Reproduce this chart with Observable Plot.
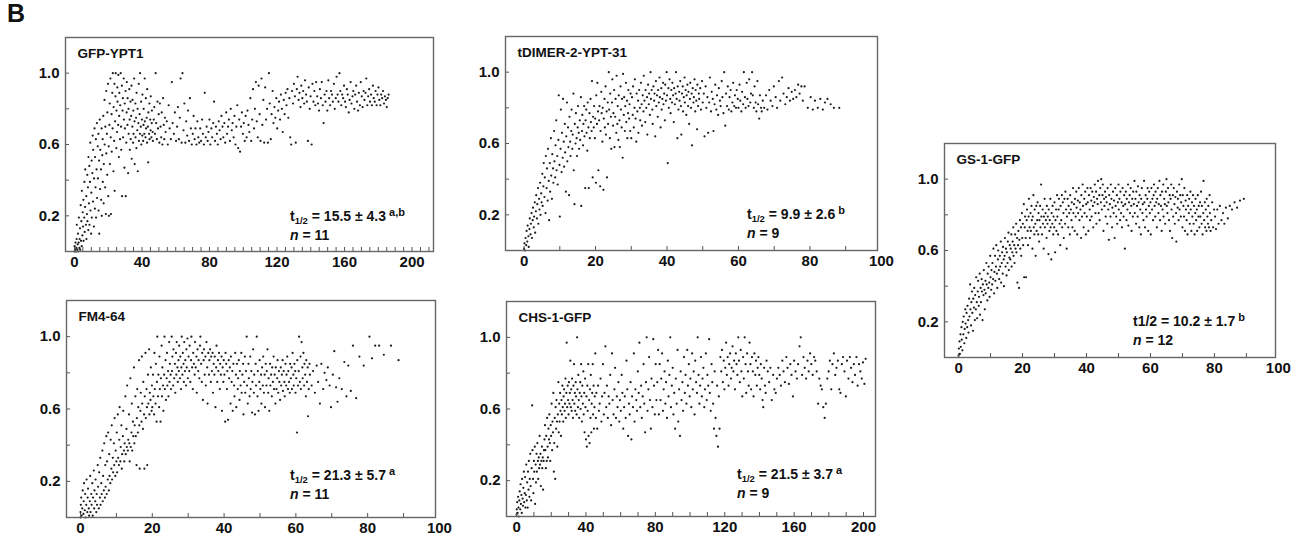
<!DOCTYPE html>
<html>
<head>
<meta charset="utf-8">
<script src="https://cdn.jsdelivr.net/npm/d3@7"></script>
<script src="https://cdn.jsdelivr.net/npm/@observablehq/plot@0.6"></script>
<style>
  html, body { margin: 0; padding: 0; background: #fff; }
  #wrap { position: relative; width: 1308px; height: 541px; font-family: "Liberation Sans", Arial, sans-serif; }
  #letter { position: absolute; left: 7px; top: 1px; font-size: 25px; font-weight: bold; line-height: 1; color: #111; }
  .pan { position: absolute; }
</style>
</head>
<body>
<div id="wrap"><div id="letter">B</div></div>
<script>
// ---------- text ----------
const titles = ["GFP-YPT1", "tDIMER-2-YPT-31", "GS-1-GFP", "FM4-64", "CHS-1-GFP"];
const halfTimes = ["15.5", "9.9", "10.2", "21.3", "21.5"];
const halfErrors = ["4.3", "2.6", "1.7", "5.7", "3.7"];
const letters = ["a,b", "b", "b", "a", "a"];
const cellCounts = [11, 9, 12, 11, 9];
// ---------- ticks ----------
const yTickLabels = [0.2, 0.6, 1.0];
const yMinorTicks = [0.2, 0.4, 0.6, 0.8, 1.0];
const xTicks200 = [0, 40, 80, 120, 160, 200];
const xTicks100 = [0, 20, 40, 60, 80, 100];

// ---------- data: [time (s), normalized fluorescence] ----------
const gfpYpt1 = [
[0,.0],[.1,.03],[.4,.01],[.6,.05],[.9,.0],[1.1,.02],[1.3,.07],[1.4,.15],[1.7,.01],[1.9,.04],[2.1,.1],[2.2,.0],[2.5,.05],[2.6,.19],[2.9,.02],[3.1,.07],[3.3,.13],[3.4,.01],[3.7,.26],[3.9,.06],[4.1,.17],[4.3,.03],[4.4,.34],[4.7,.09],[4.9,.22],[5.1,.14],[5.3,.29],[5.4,.06],[5.8,.19],[5.9,.39],
[6.1,.11],[6.3,.25],[6.4,.46],[6.8,.15],[7,.31],[7.1,.07],[7.4,.21],[7.6,.43],[7.7,.17],[8,.36],[8.2,.12],[8.3,.53],[8.6,.27],[8.8,.48],[8.9,.15],[9.2,.39],[9.4,.61],[9.5,.23],[9.9,.1],[10,.33],[10.2,.51],[10.3,.19],[10.6,.44],[10.8,.65],[11,.28],[11.1,.57],[11.5,.14],[11.6,.41],
[11.9,.69],[12.1,.24],[12.2,.53],[12.5,.36],[12.7,.63],[12.8,.19],[13.1,.46],[13.3,.72],[13.4,.3],[13.8,.59],[13.9,.41],[14.2,.66],[14.3,.23],[14.6,.51],[14.7,.1],[15,.74],[15.2,.35],[15.3,.57],[15.7,.46],[15.8,.29],[16.1,.69],[16.2,.2],[16.5,.54],[16.7,.63],[16.8,.39],[17.1,.76],[17.3,.27],[17.4,.49],[17.8,.85],[17.9,.6],[18.2,.36],[18.3,.7],[18.6,.21],[18.8,.9],[18.9,.55],[19.2,.66],[19.4,.43],[19.5,.78],[19.9,.94],[20,.31],[20.3,.59],[20.4,.2],[20.7,.71],[20.9,.83],[21,.49],[21.3,.97],[21.5,.64],
[21.6,.21],[22,.77],[22.1,.56],[22.4,.89],[22.6,.69],[22.7,1.0],[23.1,.45],[23.2,.81],[23.5,.62],[23.7,.94],[23.8,.34],[24.1,.73],[24.3,.87],[24.4,1.0],[24.8,.58],[24.9,.79],[25.2,.67],[25.4,.92],[25.5,.84],[25.9,.71],[26,.99],[26.3,.53],[26.5,.76],[26.6,.89],[27,.63],[27.1,.82],[27.4,1.0],[27.6,.7],[27.7,.57],[28.1,.93],[28.2,.31],[28.5,.79],[28.7,.86],[28.8,.64],[29.2,.97],[29.3,.74],[29.6,.47],[29.8,.83],[29.9,.69],[30.3,.9],[30.4,.31],[30.7,.61],[30.9,.78],
[31,.95],[31.4,.71],[31.5,.86],[31.8,.44],[32,.8],[32.1,.66],[32.5,.91],[32.7,.74],[32.8,.57],[33.2,.84],[33.3,.63],[33.6,.76],[33.8,.93],[33.9,.52],[34.3,.7],[34.4,.85],[34.7,.61],[34.9,.79],[35,.66],[35.4,.97],[35.6,.73],[35.7,.49],[36.1,.83],[36.2,.64],[36.5,.75],[36.7,.58],[36.8,.89],[37.2,.68],[37.4,.8],[37.5,.45],[37.9,.72],[38.1,.94],[38.2,.62],[38.6,.77],[38.8,.66],[38.9,1.0],[39.3,.7],[39.5,.84],[39.6,.6],[40,.74],[40.2,.65],[40.3,.88],[40.7,.62],[40.9,.71],[41,.8],[41.4,.66],[41.6,.97],[41.7,.73],[42.1,.64],[42.3,.86],[42.4,.69],[42.8,.75],[43,.61],[43.1,.91],[43.5,.7],[43.7,.5],[43.8,.78],[44.2,.66],[44.4,.83],[44.5,.63],[44.9,.74],[45.1,.68],[45.2,.87],[45.6,.64],[45.8,.72],[45.9,.79],[46.3,.67],[46.5,.62],
[47,.74],[47.3,.81],[47.7,.66],[48.1,1.0],[48.4,.72],[48.8,.63],[49.2,.84],[49.5,.69],[49.9,.77],[50.3,.61],[50.6,.83],[51,.7],[51.4,.64],[51.7,.78],[52.1,.6],[52.5,.86],[52.9,.71],[53.2,.63],[53.6,.75],[54,.67],[54.7,.73],[55.3,.6],[55.8,.82],[56.4,.69],[57.1,.63],[57.7,.95],[58.2,.72],[58.9,.66],[59.5,.78],[60.2,.62],
[60.8,.7],[61.3,.81],[61.9,.63],[62.4,.75],[62.9,.97],[63.5,.61],[64,1.0],[64.6,.68],[65.1,.83],[65.7,.61],[66.2,.73],[66.8,.65],[67.3,.79],[67.9,.62],[68.4,.86],[69,.69],[69.5,.6],[70.1,.66],[70.6,.76],[71.2,.63],[71.7,.69],[72.3,.6],[72.8,.73],[73.4,.64],[73.9,.61],[74.5,.69],[75,.62],[75.6,.74],[76.1,.66],[76.7,.6],[77.2,.89],[77.8,.64],[78.3,.7],[78.9,.62],[79.4,.67],[80,.74],[80.5,.6],[81.1,.69],[81.6,.64],[82.2,.72],[82.7,.84],[83.3,.62],[83.8,.7],[84.4,.66],[84.9,.6],[85.5,.73],[86,.68],[86.6,.63],[87.1,.76],[87.7,.7],[88.2,.64],[88.8,.72],[89.3,.61],[89.9,.78],[90.4,.66],[91,.7],[91.5,.74],[92.1,.62],[92.6,.8],[93.2,.68],[93.7,.72],[94.3,.64],[94.8,.76],[95.4,.6],[95.9,.7],[96.5,.82],[97,.58],[97.6,.74],[98.1,.56],[98.7,.7],[99.2,.78],[99.8,.66],
[100.3,.72],[100.9,.62],[101.4,.76],[102,.64],[102.5,.79],[103.1,.71],[103.6,.67],[104.2,.86],[104.7,.62],[105.3,.74],[105.8,.91],[106.4,.69],[106.9,.8],[107.5,.95],[108,.73],[108.6,.64],[109.1,.93],[109.7,.77],[110.2,.62],[110.8,.97],[111.3,.71],[111.9,.85],[112.4,.61],[113,.92],[113.5,.74],[114.1,.8],[114.6,.61],[115.2,1.0],[115.7,.83],[116.3,.63],[116.8,.77],[117.4,.9],[117.9,.72],[118.5,.81],[119,.75],[119.6,.86],[120.1,.69],[120.7,.79],[121.2,.84],[121.8,.74],[122.3,.88],[122.9,.8],[123.4,.67],[124,.85],[124.5,.77],[125.1,.89],[125.6,.82],[126.2,.91],[126.7,.75],[127.3,.86],[127.8,.64],
[128.4,.6],[128.9,.9],[129.5,.83],[130,.94],[130.6,.87],[131.1,.61],[131.7,.91],[132.2,.98],[132.8,.85],[133.3,.89],[133.9,.81],[134.4,.93],[135,.86],[135.5,.9],[136.1,.83],[136.6,.96],[137.2,.88],[137.7,.84],[138.3,.62],[138.8,.92],[139.4,.8],[139.9,.87],[140.5,.6],[141,.94],[141.6,.84],[142.1,.9],[142.7,.82],[143.2,.95],[143.8,.87],[144.3,.83],[144.9,.79],[145.4,.91],[146,.86],[146.5,.95],[147.1,.82],[147.6,.72],[148.2,.88],[148.7,.84],[149.3,.9],[149.8,.79],[150.4,.96],[150.9,.86],[151.5,.82],[152,.9],[152.6,.88],[153.1,.84],[153.7,.94],[154.2,.8],[154.8,.86],[155.3,.98],[155.9,.88],[156.4,.84],[157,1.0],[157.5,.9],[158.1,.82],[158.6,.88],[159.2,.86],[159.7,.93],[160.3,.84],[160.8,.81],[161.4,.91],[161.9,.88],[162.5,.78],[163,.85],[163.6,.95],[164.1,.83],[164.7,.87],[165.2,.9],[165.8,.8],[166.3,.88],[166.9,.93],[167.4,.84],[168,.79],[168.5,.89],[169.1,.82],[169.6,.95],[170.2,.87],[170.7,.81],[171.3,.9],[171.8,.85],[172.4,.89],[172.9,.97],[173.5,.82],[174,.87],[174.6,.91],[175.1,.84],[175.7,.88],[176.2,.82],[176.8,.93],[177.3,.86],[177.9,.84],[178.4,.9],[179,.82],[179.5,.88],[180.1,.92],[180.6,.85],[181.2,.82],[181.7,.88],[182.3,.86],[182.8,.9],[183.4,.83],[183.9,.87],[184.5,.85],[185,.81],[185.6,.86],[186.1,.88]
];

const tdimer = [
[0,.01],[.1,.04],[.3,.0],[.4,.07],[.6,.03],[.7,.11],[.9,.05],[1,.14],[1.2,.08],[1.3,.02],[1.5,.12],[1.6,.18],[1.8,.09],[1.9,.15],[2.1,.21],[2.2,.07],[2.4,.17],[2.5,.24],[2.7,.13],[2.8,.19],[3,.27],[3.1,.1],[3.3,.22],[3.4,.31],[3.6,.18],[3.7,.26],[3.9,.35],[4,.15],[4.2,.29],[4.3,.23],[4.5,.38],[4.6,.2],[4.8,.32],[4.9,.27],
[5.1,.43],[5.2,.25],[5.4,.36],[5.5,.49],[5.7,.3],[5.8,.41],[6,.21],[6.1,.53],[6.3,.35],[6.4,.46],[6.6,.28],[6.7,.57],[6.9,.39],[7,.17],[7.2,.49],[7.3,.33],[7.5,.63],[7.6,.42],[7.8,.29],[7.9,.54],[8.1,.46],[8.2,.38],[8.4,.67],[8.5,.5],[8.7,.41],[8.8,.59],[9,.73],[9.1,.45],[9.3,.53],[9.4,.37],[9.6,.62],[9.7,.87],[9.9,.48],[10,.19],[10.2,.57],[10.3,.79],[10.5,.44],[10.6,.66],[10.8,.52],[10.9,.85],
[11.1,.61],[11.2,.47],[11.4,.71],[11.5,.55],[11.7,.33],[11.8,.64],[12,.83],[12.1,.5],[12.3,.69],[12.4,.58],[12.6,.31],[12.7,.75],[12.9,.61],[13,.53],[13.2,.67],[13.3,.79],[13.5,.57],[13.6,.65],[13.8,.88],[13.9,.45],[14.1,.26],[14.2,.71],[14.4,.6],[14.5,.77],[14.7,.63],[14.8,.53],[15,.69],[15.1,.81],[15.3,.66],[15.4,.57],[15.6,.73],[15.7,.62],[15.9,.86],[16,.25],[16.2,.67],[16.3,.76],[16.5,.59],[16.6,.71],[16.8,.81],[16.9,.64],[17.1,.35],[17.2,.73],[17.4,.79],[17.5,.66],[17.7,.56],[17.8,.83],[18,.69],[18.1,.35],[18.3,.77],[18.4,.63],[18.6,.85],[18.7,.72],[18.9,.67],[19,.95],[19.2,.41],[19.3,.75],[19.5,.69],[19.6,.81],[19.8,.63],[19.9,.74],[20.1,.38],[20.2,.87],[20.4,.71],[20.5,.94],[20.7,.78],[20.8,.45],
[21,.73],[21.1,.81],[21.3,.36],[21.4,.67],[21.6,.89],[21.7,.77],[21.9,.61],[22,.8],[22.2,.34],[22.3,.74],[22.5,.85],[22.6,.69],[22.8,.92],[22.9,.65],[23.1,.78],[23.2,.41],[23.4,.83],[23.5,.71],[23.7,1.0],[23.8,.79],[24,.63],[24.1,.88],[24.3,.75],[24.4,.57],[24.6,.83],[24.7,.96],[24.9,.7],[25,.77],[25.2,.9],[25.3,.58],[25.5,.75],[25.6,.85],[25.8,.66],[25.9,.98],[26.1,.71],[26.2,.81],[26.4,.62],[26.5,.87],[26.7,.73],[26.8,.58],[27,.92],[27.1,.79],[27.3,.69],[27.4,.85],[27.6,.52],[27.7,.99],[27.9,.76],[28,.86],[28.2,.67],[28.3,.81],[28.5,.94],[28.6,.72],[28.8,.84],[28.9,.63],[29.1,.77],[29.2,.9],[29.4,.74],[29.5,.82],[29.7,.67],[29.8,.88],
[30,.63],[30.2,.86],[30.4,.76],[30.5,.92],[30.7,.69],[30.9,.8],[31,.96],[31.2,.74],[31.4,.61],[31.5,.88],[31.7,.78],[31.9,.84],[32,.66],[32.2,.9],[32.4,.8],[32.5,.73],[32.7,.94],[32.9,.82],[33,.7],[33.2,.87],[33.4,.78],[33.5,.98],[33.7,.84],[33.9,.72],[34,.9],[34.2,.8],[34.4,.86],[34.5,.65],[34.7,.93],[34.9,.82],[35,.88],[35.2,.76],[35.4,1.0],[35.5,.85],[35.7,.9],[35.9,.79],[36,.71],[36.2,.92],[36.4,.84],[36.5,.88],[36.7,.64],[36.9,.95],[37,.81],[37.2,.87],[37.4,.75],[37.5,.9],[37.7,.83],[37.9,.97],[38,.86],[38.2,.69],[38.4,.91],[38.5,.79],[38.7,.85],[38.9,.94],[39,.82],[39.2,.88],[39.4,.73],[39.5,.93],[39.7,.84],[39.9,1.0],[40,.87],[40.2,.49],[40.4,.91],[40.5,.8],[40.7,.96],[40.9,.85],[41,.77],[41.2,.9],[41.4,.83],[41.5,.94],[41.7,.87],[41.9,.72],[42,.91],[42.2,.82],[42.4,.88],[42.5,1.0],[42.7,.85],[42.9,.63],[43,.92],[43.2,.79],[43.4,.89],[43.5,.84],[43.7,.95],[43.9,.81],[44,.65],[44.2,.88],[44.4,.92],[44.5,.78],[44.7,.86],[44.9,.97],[45,.83],[45.2,.9],[45.4,.76],[45.5,.87],[45.7,.93],[45.9,.81],[46,.89],[46.2,.71],[46.4,.85],[46.5,.94],[46.7,.8],[46.9,.88],[47,.59],[47.2,.91],[47.4,.83],[47.5,.86],[47.7,.96],[47.9,.78],[48,.9],[48.2,.84],[48.4,.68],[48.5,.93],[48.7,.81],[48.9,.88],
[49,.85],[49.3,.91],[49.5,.79],[49.8,.95],[50,.83],[50.3,.88],[50.5,.64],[50.8,.92],[51,.8],[51.3,.86],[51.5,.66],[51.8,.83],[52,.97],[52.3,.78],[52.5,.89],[52.8,.85],[53,.67],[53.3,.82],[53.5,.93],[53.8,.79],[54,.87],[54.3,.76],[54.5,.91],[54.8,.84],[55,.81],[55.3,.95],[55.5,.86],[55.8,.77],[56,1.0],[56.3,.7],[56.5,.88],[56.8,.81],[57,.92],[57.3,.79],[57.5,.86],[57.8,.9],[58,.78],[58.3,.83],[58.5,.94],[58.8,.81],[59,.87],[59.3,.8],[59.5,.9],[59.8,.85],[60,.8],[60.3,.93],[60.5,.84],[60.8,.78],[61,.89],[61.3,.82],[61.5,1.0],[61.8,.86],[62,.8],[62.3,.94],[62.5,.85],[62.8,.81],[63,.96],[63.3,.83],[63.5,.88],[63.8,1.0],[64,.87],[64.3,.8],[64.5,.92],[64.8,.83],[65,.78],[65.3,.95],[65.5,.82],[65.8,.74],[66,.87],[66.3,.8],[66.5,.78],[66.8,.84],
[67.2,.8],[67.7,.87],[68.1,.79],[68.6,.9],[69,.84],[69.5,.81],[69.9,.92],[70.4,.86],[70.8,.8],[71.3,.95],[71.7,.84],[72.2,.97],[72.6,.88],[73.1,.82],[73.5,.86],[74,.91],[74.4,.84],[74.9,.89],[75.3,.85],[75.8,.9],[76.2,.86],[76.7,.93],[77.1,.88],[77.6,.92],[78,.84],[78.5,.92],[79.4,.8],[80.2,.86],[80.8,.79],[81.4,.84],[82.2,.8],[82.9,.85],[83.6,.79],[84.2,.83],[84.9,.85],[85.8,.82],[86.7,.8],[88.2,.8]
];

const gs1 = [
[0,.01],[.1,.05],[.3,.09],[.4,.02],[.6,.13],[.7,.06],[.9,.17],[1,.1],[1.2,.04],[1.3,.2],[1.5,.13],[1.6,.23],[1.8,.08],[1.9,.16],[2.1,.27],[2.2,.19],[2.4,.11],[2.5,.25],[2.7,.17],[2.8,.29],[3,.21],
[3.1,.14],[3.3,.33],[3.4,.23],[3.6,.41],[3.7,.27],[3.9,.18],[4,.31],[4.2,.37],[4.3,.25],[4.5,.15],[4.6,.33],[4.8,.28],[4.9,.39],[5.1,.21],[5.2,.35],[5.4,.27],[5.5,.45],[5.7,.31],[5.8,.22],[6,.37],[6.1,.43],[6.3,.29],[6.4,.34],[6.6,.47],[6.7,.24],[6.9,.39],[7,.31],[7.2,.44],[7.3,.37],[7.5,.21],[7.6,.41],[7.8,.35],[7.9,.49],[8.1,.38],[8.2,.27],[8.4,.43],[8.5,.36],[8.7,.53],[8.8,.41],[9,.32],[9.1,.47],[9.3,.39],[9.4,.51],[9.6,.42],[9.7,.34],[9.9,.57],[10,.45],[10.2,.38],[10.3,.49],[10.5,.41],
[10.6,.53],[10.8,.44],[10.9,.61],[11.1,.36],[11.2,.48],[11.4,.57],[11.5,.43],[11.7,.51],[11.8,.63],[12,.47],[12.1,.39],[12.3,.55],[12.4,.6],[12.6,.49],[12.7,.44],[12.9,.57],[13,.51],[13.2,.65],[13.3,.42],[13.5,.53],[13.6,.59],[13.8,.47],[13.9,.62],[14.1,.55],[14.2,.4],[14.4,.57],[14.5,.67],[14.7,.51],[14.8,.61],[15,.46],[15.1,.59],[15.3,.53],[15.4,.65],[15.6,.7],[15.7,.49],[15.9,.56],[16,.63],[16.2,.55],[16.3,.61],[16.5,.69],[16.6,.51],[16.8,.59],[16.9,.65],[17.1,.73],[17.2,.57],[17.4,.63],[17.5,.53],[17.7,.69],[17.8,.61],[18,.75],[18.1,.59],[18.3,.67],[18.4,.42],[18.6,.63],[18.7,.71],[18.9,.39],[19,.66],[19.2,.77],[19.3,.61],[19.5,.73],[19.6,.57],[19.8,.81],[19.9,.67],[20.1,.75],[20.2,.63],[20.4,.86],
[20.5,.45],[20.7,.73],[20.8,.79],[21,.67],[21.1,.45],[21.3,.77],[21.4,.83],[21.6,.71],[21.7,.63],[21.9,.79],[22,.89],[22.2,.73],[22.3,.67],[22.5,.81],[22.6,.71],[22.8,.85],[22.9,.77],[23.1,.61],[23.2,.79],[23.4,.91],[23.5,.73],[23.7,.69],[23.8,.83],[24,.75],[24.1,.57],[24.3,.85],[24.4,.71],[24.6,.77],[24.7,.87],[24.9,.69],[25,.81],[25.2,.65],[25.3,.77],[25.5,.85],[25.6,.73],[25.8,.97],[25.9,.79],[26.1,.69],[26.3,.83],[26.4,.75],[26.6,.61],[26.7,.79],[26.9,.89],[27,.73],[27.2,.81],[27.3,.77],[27.5,.67],[27.6,.85],[27.8,.75],[27.9,.79],[28.1,.58],[28.2,.83],[28.4,.71],[28.5,.77],[28.7,.89],[28.8,.73],[29,.55],[29.1,.81],[29.3,.75],[29.4,.85],[29.6,.69],[29.7,.79],[29.9,.73],[30,.87],[30.2,.59],[30.3,.77],[30.5,.83],[30.6,.71],[30.8,.91],[30.9,.79],
[31.1,.69],[31.3,.83],[31.4,.89],[31.6,.75],[31.8,.63],[31.9,.85],[32.1,.77],[32.3,.91],[32.4,.73],[32.6,.87],[32.8,.81],[32.9,.67],[33.1,.89],[33.3,.75],[33.4,.93],[33.6,.83],[33.8,.61],[33.9,.79],[34.1,.89],[34.3,.73],[34.4,.85],[34.6,.81],[34.8,.69],[34.9,.91],[35.1,.83],[35.3,.77],[35.4,.87],[35.6,.73],[35.8,.95],[35.9,.81],[36.1,.86],[36.3,.71],[36.4,.89],[36.6,.79],[36.8,.93],[36.9,.84],[37.1,.69],[37.3,.88],[37.4,.81],[37.6,.95],[37.8,.77],[37.9,.87],[38.1,.83],[38.3,.67],[38.4,.91],[38.6,.79],[38.8,.97],[38.9,.85],[39.1,.73],[39.3,.89],[39.4,.81],[39.6,.93],[39.8,.69],[39.9,.86],[40.1,.79],[40.3,.95],[40.4,.87],[40.6,.71],[40.8,.91],
[41,.83],[41.1,.77],[41.3,.95],[41.5,.88],[41.6,.79],[41.8,.93],[42,.85],[42.1,.73],[42.3,.9],[42.5,.87],[42.6,.97],[42.8,.81],[43,.93],[43.1,.75],[43.3,.89],[43.5,.86],[43.6,.99],[43.8,.81],[44,.91],[44.1,.77],[44.3,.95],[44.5,.87],[44.6,1.0],[44.8,.83],[45,.91],[45.1,.97],[45.3,.71],[45.5,.89],[45.6,.85],[45.8,.93],[46,.79],[46.1,.9],[46.3,.87],[46.5,.75],[46.6,.95],[46.8,.83],[47,.66],[47.1,.91],[47.3,.86],[47.5,.79],[47.6,.97],[47.8,.89],[48,.73],[48.1,.84],[48.3,.93],[48.5,.81],[48.6,.88],[48.8,.67],[49,.95],[49.1,.85],[49.3,.79],[49.5,.91],[49.6,.75],[49.8,.87],[50,.97],[50.1,.83],[50.3,.89],[50.5,.77],[50.6,.93],[50.8,.81],[51,.87],[51.1,.73],[51.3,.95],[51.5,.85],[51.6,.79],[51.8,.91],[52,.61],[52.1,.86],[52.3,.93],[52.5,.77],[52.6,.89],[52.8,.83],[53,.97],[53.1,.74],[53.3,.87],[53.5,.91],[53.6,.81],[53.8,.95],[54,.85],[54.1,.71],[54.3,.89],[54.5,.79],[54.6,.93],[54.8,.86],
[55,.99],[55.1,.81],[55.3,.89],[55.5,.75],[55.6,.93],[55.8,.85],[56,.79],[56.1,.96],[56.3,.87],[56.5,.73],[56.6,.91],[56.8,.83],[57,.69],[57.1,.89],[57.3,.95],[57.5,.81],[57.6,.86],[57.8,.77],[58,.99],[58.1,.87],[58.3,.73],[58.5,.91],[58.6,.83],[58.8,.79],[59,.89],[59.1,.95],[59.3,.71],[59.5,.85],[59.6,.93],[59.8,.81],[60,.87],[60.1,.69],[60.3,.95],[60.5,.83],[60.6,.89],[60.8,.77],[61,.91],[61.1,.97],[61.3,.85],[61.5,.79],[61.6,.93],[61.8,.87],[62,.73],[62.1,.89],[62.3,.95],[62.5,.81],[62.6,.86],[62.8,.99],[63,.77],[63.1,.91],[63.3,.85],[63.5,.71],[63.6,.93],[63.8,.83],[64,.97],[64.1,.79],[64.3,.89],[64.5,.86],[64.6,.75],[64.8,.93],[65,1.0],[65.1,.85],[65.3,.81],[65.5,.95],[65.6,.87],[65.8,.77],[66,.91],[66.1,.71],[66.3,.89],[66.5,.97],[66.6,.83],[66.8,.67],[67,.91],[67.1,.79],[67.3,.95],[67.5,.86],[67.6,.75],[67.8,.9],[68,.81],[68.1,.65],[68.3,.93],[68.5,.84],[68.6,.89],[68.8,.77],[69,.97],[69.1,.83],[69.3,.91],[69.5,.79],[69.6,.87],[69.8,1.0],
[70,.73],[70.1,.91],[70.3,.85],[70.5,.79],[70.6,.95],[70.8,.71],[71,.88],[71.1,.83],[71.3,.77],[71.5,.91],[71.6,.69],[71.8,.85],[72,.81],[72.1,.89],[72.3,.75],[72.5,.93],[72.6,.83],[72.8,.71],[73,.87],[73.1,.79],[73.3,.91],[73.5,.75],[73.6,.85],[73.8,.69],[74,.81],[74.1,.89],[74.3,.77],[74.5,.83],[74.6,.71],[74.8,.91],[75,.79],[75.1,.85],[75.3,.73],[75.5,.87],[75.6,.79],[75.8,.93],[76,.75],[76.1,.85],[76.3,.69],[76.5,.81],[76.6,.99],[76.8,.77],[77,.87],[77.1,.73],[77.3,.83],[77.5,.71],[77.6,.89],[77.8,.79],[78,.75],[78.1,.85],[78.3,.73],[78.5,.91],[78.6,.81],[78.8,.71],[79,.77],[79.3,.87],[79.6,.73],[79.9,.83],[80.2,.79],[80.5,.72],[80.9,.83],[81.3,.75],[81.7,.85],[82.2,.77],[82.7,.81],[83.1,.75],[83.6,.84],[84.2,.78],[84.8,.85],[85.5,.83],[86.3,.87],[87.1,.84],[88,.88],[89.2,.89]
];

const fm464 = [
[0,.0],[0,.03],[.1,.07],[.2,.11],[.3,.01],[.5,.05],[.6,.15],[.8,.02],[.9,.09],[1,.19],[1.2,.04],[1.3,.13],[1.4,.0],[1.6,.07],[1.7,.21],[1.9,.03],[2,.11],[2.1,.16],[2.3,.05],[2.4,.01],[2.6,.09],[2.7,.23],[2.8,.03],[3,.13],[3.1,.07],[3.3,.19],[3.4,.01],[3.5,.11],[3.7,.26],[3.8,.05],[3.9,.15],[4.1,.09],[4.2,.21],[4.4,.03],[4.5,.13],[4.6,.07],[4.8,.29],[4.9,.17],
[5.1,.05],[5.2,.25],[5.4,.11],[5.5,.33],[5.6,.07],[5.8,.19],[5.9,.13],[6.1,.37],[6.2,.09],[6.3,.23],[6.5,.15],[6.6,.41],[6.8,.11],[6.9,.29],[7,.17],[7.2,.45],[7.3,.13],[7.4,.31],[7.6,.21],[7.7,.47],[7.9,.15],[8,.35],[8.1,.23],[8.3,.19],[8.4,.43],[8.6,.27],[8.7,.51],[8.8,.21],[9,.33],[9.1,.25],[9.3,.41],[9.4,.29],[9.5,.55],[9.7,.23],[9.8,.37],[10,.31],
[10.1,.47],[10.2,.25],[10.4,.57],[10.5,.33],[10.7,.29],[10.8,.43],[10.9,.61],[11.1,.31],[11.2,.39],[11.4,.51],[11.5,.27],[11.6,.35],[11.8,.45],[11.9,.59],[12.1,.37],[12.2,.31],[12.3,.41],[12.5,.67],[12.6,.35],[12.8,.49],[12.9,.39],[13,.73],[13.2,.37],[13.3,.43],[13.5,.57],[13.6,.41],[13.7,.31],[13.9,.77],[14,.39],[14.2,.47],[14.3,.63],[14.4,.37],[14.6,.53],[14.7,.45],[14.9,.83],[15,.41],[15.1,.51],[15.3,.67],[15.4,.45],[15.6,.29],[15.7,.55],[15.8,.71],[16,.47],[16.1,.61],[16.3,.87],[16.4,.51],[16.5,.27],[16.7,.59],[16.8,.69],[17,.53],[17.1,.89],[17.2,.63],[17.4,.49],[17.5,.75],[17.7,.57],[17.8,.27],[17.9,.67],[18.1,.91],[18.2,.55],[18.4,.71],[18.5,.61],[18.6,.29],[18.8,.79],[18.9,.63],[19.1,.93],[19.2,.57],[19.3,.69],[19.5,.65],[19.6,.83],[19.8,.59],[19.9,.73],
[20,.61],[20.2,.79],[20.3,.67],[20.5,.57],[20.6,.91],[20.7,.71],[20.9,.63],[21,.85],[21.2,.53],[21.3,.75],[21.4,1.0],[21.6,.67],[21.7,.79],[21.9,.61],[22,.89],[22.1,.71],[22.3,.53],[22.4,.77],[22.6,.95],[22.7,.67],[22.8,.83],[23,.73],[23.1,.59],[23.3,.79],[23.4,1.0],[23.5,.71],[23.7,.87],[23.8,.65],[24,.77],[24.1,.91],[24.2,.73],[24.4,.81],[24.5,.67],[24.7,.97],[24.8,.75],[24.9,.85],[25.1,.79],[25.2,.71],[25.4,1.0],[25.5,.81],[25.6,.89],[25.8,.73],[25.9,.93],[26.1,.77],[26.3,.85],[26.4,.69],[26.6,.91],[26.7,.79],[26.8,.97],[27,.83],[27.1,.75],[27.3,.87],[27.4,.81],[27.5,.95],[27.7,.77],[27.8,.89],[28,.71],[28.1,.83],[28.2,1.0],[28.4,.79],[28.5,.91],[28.7,.85],[28.8,.75],[28.9,.97],[29.1,.81],[29.2,.87],[29.4,.73],[29.5,.93],[29.6,.83],[29.8,.99],[29.9,.77],
[30.1,.89],[30.3,.81],[30.4,.95],[30.6,.75],[30.8,.87],[30.9,1.0],[31.1,.83],[31.3,.71],[31.4,.91],[31.6,.85],[31.8,.79],[31.9,.97],[32.1,.83],[32.3,.89],[32.4,.69],[32.6,.93],[32.8,.81],[32.9,.87],[33.1,.77],[33.3,.95],[33.4,1.0],[33.6,.85],[33.8,.75],[33.9,.91],[34.1,.65],[34.3,.87],[34.4,.93],[34.6,.79],[34.8,.89],[34.9,.73],[35.1,.97],[35.3,.83],[35.4,.63],[35.6,.91],[35.8,.79],[35.9,.87],[36.1,.93],[36.3,.75],[36.4,.89],[36.6,.81],[36.8,.91],[36.9,.69],[37.1,.85],[37.3,.79],[37.4,.89],[37.6,.61],[37.8,.83],[37.9,.95],[38.1,.75],[38.3,.87],[38.4,.81],[38.6,.91],[38.8,.71],[38.9,.85],[39.1,.79],[39.3,.89],[39.4,.59],[39.6,.83],[39.8,.75],[39.9,.87],[40.1,.79],[40.3,.53],[40.4,.91],[40.6,.85],[40.8,.71],[40.9,.81],[41.1,.54],[41.3,.87],[41.4,.77],[41.6,.83],[41.8,.63],[41.9,.89],[42.1,.75],[42.3,.81],[42.4,.59],[42.6,.85],[42.8,.73],[42.9,.67],[43.1,.91],[43.3,.79],[43.4,.61],[43.6,.85],[43.8,.71],[43.9,.77],[44.1,.87],[44.3,.65],[44.4,.81],[44.6,.73],[44.8,.91],[44.9,.69],
[45.1,.79],[45.3,.85],[45.4,.57],[45.6,.75],[45.8,.89],[45.9,.69],[46.1,.81],[46.3,1.0],[46.4,.73],[46.6,.63],[46.8,.85],[46.9,.77],[47.1,.67],[47.3,.89],[47.4,.71],[47.6,.81],[47.8,.58],[47.9,.75],[48.1,.93],[48.3,.69],[48.4,.79],[48.6,.57],[48.8,.85],[48.9,.73],[49.1,1.0],[49.3,.67],[49.4,.81],[49.6,.59],[49.8,.75],[49.9,.87],[50.1,.71],[50.3,.79],[50.4,.63],[50.6,.83],[50.8,.73],[50.9,.89],[51.1,.69],[51.3,.79],[51.4,.61],[51.6,.85],[51.8,.73],[51.9,.81],[52.1,.93],[52.3,.69],[52.4,.77],[52.6,.59],[52.8,.85],[52.9,.73],[53.1,.79],[53.3,.67],[53.4,.83],[53.6,.75],[53.8,.89],[53.9,.71],[54.1,.79],[54.3,.63],[54.4,.83],[54.6,.71],[54.8,.77],[54.9,.87],[55.1,.69],[55.3,.81],[55.4,.75],[55.6,.65],[55.8,.83],[55.9,.73],[56.1,.79],[56.3,.87],[56.4,.7],[56.6,.81],[56.8,.75],[56.9,.67],[57.1,.85],[57.3,.73],[57.4,.79],[57.6,.89],[57.8,.71],[57.9,.81],[58.1,.75],[58.3,.69],[58.4,.85],[58.6,.77],[58.8,.83],[58.9,.71],[59.1,.91],[59.3,.79],[59.4,.73],[59.6,.85],[59.8,.81],[59.9,.69],[60.1,.77],[60.3,.47],[60.4,.87],[60.6,.73],[60.8,.81],[60.9,1.0],[61.1,.75],[61.3,.89],[61.4,.71],[61.6,.97],[61.8,.83],[61.9,.77],[62.1,.91],[62.3,.73],[62.4,.85],[62.6,.79],[62.8,.67],[62.9,.87],[63.1,.75],[63.3,.83],[63.4,.56],[63.6,.71],[63.8,.85],[63.9,.79],[64.4,.73],[64.8,.81],
[65.3,.69],[65.8,.84],[66.2,.75],[66.7,.63],[67.1,.85],[67.6,.71],[68,.8],[68.5,.76],[68.9,.83],[69.4,.73],[69.8,.61],[70.3,.79],[70.7,.92],[71.2,.72],[71.6,.64],[72.1,.77],[72.8,.71],[73.5,.86],[74.1,.67],[74.6,.84],[75.3,.7],[75.9,.95],[76.8,.66],[77.7,.89],[78.9,.84],[80.5,1.0],[81.2,.88],[82.1,.95],[83.2,.95],[84.5,.9],[86.5,.95],[88.6,.87]
];

const chs1 = [
[0,.01],[.1,.04],[.4,.08],[.6,.02],[.9,.11],[1.1,.05],[1.3,.0],[1.6,.09],[1.8,.14],[2.1,.04],[2.3,.18],[2.5,.07],[2.8,.12],[3,.02],[3.2,.21],[3.5,.1],[3.7,.06],[3.9,.16],[4.2,.25],[4.4,.08],[4.7,.13],[4.9,.22],[5.1,.05],
[5.4,.12],[5.6,.29],[5.9,.09],[6.1,.19],[6.4,.05],[6.6,.25],[6.9,.15],[7.1,.31],[7.4,.11],[7.6,.21],[7.9,.35],[8.1,.17],[8.4,.09],[8.7,.27],[9,.62],[9.2,.37],[9.5,.21],[9.7,.13],[10,.31],[10.2,.25],[10.5,.39],[10.7,.07],[11,.29],[11.2,.19],[11.5,.35],[11.7,.25],[12,.41],[12.3,.31],[12.5,.21],[12.8,.33],[13,.27],[13.3,.45],[13.5,.29],[13.8,.35],[14,.17],[14.3,.31],[14.6,.39],[14.8,.27],[15.1,.33],[15.3,.15],[15.6,.31],[15.8,.37],
[16.1,.43],[16.4,.51],[16.6,.37],[16.9,.27],[17.1,.45],[17.4,.31],[17.6,.55],[17.9,.39],[18.1,.33],[18.4,.49],[18.7,.43],[18.9,.57],[19.2,.41],[19.4,.31],[19.7,.51],[19.9,.45],[20.2,.63],[20.5,.37],[20.7,.53],[21,.47],[21.2,.69],[21.5,.25],[21.7,.41],[22,.55],[22.3,.21],[22.5,.61],[22.8,.49],[23,.65],[23.3,.53],[23.5,.39],[23.8,.57],[24.1,.75],[24.3,.47],[24.6,.63],[24.8,.53],[25.1,.69],[25.3,.59],[25.6,.45],[25.9,.65],[26.1,.57],[26.4,.73],[26.6,.61],[26.9,.53],[27.1,.67],[27.4,.71],[27.7,.59],[27.9,.63],[28.2,.77],[28.4,.55],[28.7,.69],[28.9,.97],[29.2,.61],[29.5,.73],[29.7,.65],[30,.57],[30.2,.75],[30.5,.63],[30.7,.69],
[31,.87],[31.3,.61],[31.5,.71],[31.8,.59],[32,.77],[32.3,.65],[32.5,.55],[32.8,.73],[33.1,.85],[33.3,.63],[33.6,.69],[33.8,.59],[34.1,.75],[34.3,.67],[34.6,.57],[34.9,1.0],[35.1,.71],[35.4,.61],[35.6,.79],[35.9,.65],[36.1,.55],[36.4,.69],[36.7,.75],[36.9,.6],[37.2,.85],[37.4,.67],[37.7,.53],[37.9,.73],[38.2,.63],[38.5,.81],[38.7,.57],[39,.69],[39.2,.47],[39.5,.77],[39.7,.61],[40,.43],[40.3,.67],[40.5,.39],[40.8,.73],[41,.59],[41.3,.85],[41.5,.45],[41.8,.65],[42.1,.41],[42.3,.71],[42.6,.55],[42.8,.79],[43.1,.47],[43.3,.63],[43.6,.69],[43.9,.85],[44.1,.57],[44.4,.73],[44.6,.49],[44.9,.61],[45.1,.67],[45.4,.91],[45.7,.55],
[46,.69],[46.5,.49],[47,.73],[47.5,.59],[47.9,.63],[48.4,.77],[48.9,.53],[49.3,.67],[49.8,.85],[50.3,.57],[50.7,.69],[51.2,.95],[51.7,.61],[52.1,.73],[52.6,.55],[53.1,.67],[53.5,.63],[54,.79],[54.5,.51],[55,.91],[55.4,.65],[55.9,.57],[56.4,.71],[56.8,.83],[57.3,.55],[57.8,.67],[58.2,.61],[58.7,.75],[59.2,.53],[59.6,.65],[60.1,.59],[60.6,.79],[61,.69],[61.5,.49],[62,.61],[62.4,.67],[62.9,.55],[63.4,.87],[63.8,.71],[64.3,.45],[64.8,.63],[65.2,.57],[65.7,.75],[66.2,.43],[66.6,.67],[67.1,.61],[67.6,.91],[68,.53],[68.5,.71],[69,.65],[69.4,.59],[69.9,.81],[70.4,.69],[70.8,.97],[71.3,.61],[71.8,.73],[72.2,.55],[72.7,.67],[73.2,.85],[73.6,.63],[74.1,.47],[74.6,.75],[75,1.0],[75.5,.59],[76,.71],[76.4,.89],[76.9,.65],[77.4,.49],[77.8,.77],[78.3,.61],[78.8,.99],[79.2,.73],[79.7,.57],[80.2,.85],[80.6,.65],
[81.1,.75],[81.6,.93],[82,.57],[82.5,.85],[83,.65],[83.4,.77],[83.9,.91],[84.4,.59],[84.8,.71],[85.3,.81],[85.8,.63],[86.2,.75],[86.7,.55],[87.2,.87],[87.6,.67],[88.1,.79],[88.6,1.0],[89,.61],[89.5,.73],[90,.83],[90.4,.57],[90.9,.69],[91.4,.49],[91.8,.77],[92.3,.63],[92.8,.93],[93.2,.53],[93.7,.71],[94.2,.45],[94.6,.81],[95.1,.65],[95.6,.75],[96,.59],[96.5,.89],[97,.69],[97.4,.79],[97.9,.63],[98.4,.93],[98.8,.73],[99.3,.85],[99.8,.67],[100.2,.77],[100.7,.61],[101.2,.91],[101.6,.71],[102.1,.81],[102.6,.57],[103,.87],[103.5,.75],[104,.69],[104.4,1.0],[104.9,.79],[105.4,.63],[105.8,.73],[106.3,.89],[106.8,.67],[107.2,.77],[107.7,.83],[108.2,.61],[108.6,.71],[109.1,.91],[109.6,.65],[110,.79],[110.5,.73],[111,.99],[111.4,.69],[111.9,.59],[112.4,.85],[112.8,.75],[113.3,.63],[113.8,.49],[114.2,.81],[114.7,.55],[115.2,.45],[115.6,.73],[116.1,.39],[116.6,.67],[117,.49],[117.5,.89],[118,.81],[118.4,.93],[118.9,.75],
[119.4,.87],[119.8,.71],[120.3,.83],[120.8,.97],[121.2,.79],[121.7,.89],[122.2,.73],[122.6,.85],[123.1,.91],[123.6,.77],[124,.83],[124.5,.95],[125,.81],[125.4,.87],[125.9,.71],[126.4,.91],[126.8,.85],[127.3,.79],[127.8,1.0],[128.2,.87],[128.7,.75],[129.2,.93],[129.6,.81],[130.1,.67],[130.6,.89],[131,.77],[131.5,1.0],[132,.85],[132.4,.69],[132.9,.91],[133.4,.81],[133.8,.73],[134.3,.97],[134.8,.85],[135.2,.71],[135.7,.89],[136.2,.81],[136.6,.67],[137.1,.91],[137.6,.79],[138,.87],[138.5,.73],[139,.83],[139.4,.89],[139.9,.79],[140.4,.71],[140.8,.85],[141.3,.77],[141.8,.65],[142.2,.61],[142.7,.83],[143.2,.73],[143.6,.69],[144.1,.87],
[144.8,.81],[145.6,.75],[146.3,.83],[147.1,.65],[147.9,.79],[148.6,.71],[149.4,.69],[150.1,.77],[150.9,.83],[151.7,.79],[152.4,.73],[153.2,.87],[153.9,.81],[154.7,.75],[155.5,.89],[156.2,.83],[157,.74],[157.8,.85],[158.5,.79],[159.3,.67],[160,.87],[160.8,.81],[161.6,.77],[162.3,.85],[163.1,.95],[163.8,1.0],[164.6,.79],[165.4,.89],[166.1,.83],[166.9,.77],[167.7,.87],[168.4,.81],[169.2,.91],[169.9,.85],[170.7,.79],[171.5,.89],[172.2,.87],[173,.81],[173.8,.63],[174.5,.77],[175.3,.73],[176,.71],[176.8,.61],[177.6,.55],[178.3,.63],[179.1,.77],[179.9,.81],[180.6,.87],[181.4,.71],[182.1,.85],[182.9,.91],[183.7,.79],[184.4,.83],[185.2,.87],[186,.71],[186.7,.69],[187.5,.85],[188.2,.89],[189,.81],[189.8,.67],[190.5,.87],[191.3,.77],[192.1,.89],[192.8,.83],[193.6,.75],[194.4,.85],[195.1,.79],[195.9,.89],[196.6,.73],[197.4,.85],[198.2,.81],[199,.77],[199.7,.86],[200.5,.74],[201.2,.88]
];

// ---------- layout ----------
const M = {l: 42, r: 28, t: 2, b: 28};
const panels = [
  {data: gfpYpt1, i: 0, left: 65,  top: 37,  w: 368, h: 214, xd: [-5.3, 212.7], ticks: xTicks200, minorStep: 5,  minorMax: 210, ann: {dx: 225, b1: 30, b2: 11, sub: true}},
  {data: tdimer,  i: 1, left: 505, top: 36,  w: 372, h: 214, xd: [-5.2, 98.9],  ticks: xTicks100, minorStep: 10, minorMax: 90,  ann: {dx: 242, b1: 31, b2: 12, sub: true}},
  {data: gs1,     i: 2, left: 944, top: 143, w: 331, h: 214, xd: [-4.4, 99.1],  ticks: xTicks100, minorStep: 10, minorMax: 90,  ann: {dx: 189, b1: 31, b2: 12, sub: false}},
  {data: fm464,   i: 3, left: 66,  top: 300, w: 369, h: 217, xd: [-3.9, 98.9],  ticks: xTicks100, minorStep: 10, minorMax: 90,  ann: {dx: 224, b1: 37, b2: 18, sub: true}},
  {data: chs1,    i: 4, left: 506, top: 301, w: 369, h: 215, xd: [-5.8, 206.9], ticks: xTicks200, minorStep: 10, minorMax: 200, ann: {dx: 231, b1: 37, b2: 18, sub: true}}
];

const FRAME = "#666";
const wrap = document.getElementById("wrap");

for (const p of panels) {
  const xMinor = d3.range(0, p.minorMax + 0.001, p.minorStep);
  const plot = Plot.plot({
    width: p.w + M.l + M.r,
    height: p.h + M.t + M.b,
    marginLeft: M.l, marginRight: M.r, marginTop: M.t, marginBottom: M.b,
    x: {domain: p.xd, axis: null},
    y: {domain: [0, 1.2], axis: null},
    style: {background: "transparent", overflow: "visible", fontFamily: "'Liberation Sans', Arial, sans-serif", fontSize: "15px", fontWeight: "bold", color: "#111"},
    marks: [
      Plot.dot(p.data, {x: d => d[0], y: d => d[1], r: 1.1, fill: "#1a1a1a", stroke: null}),
      Plot.axisX(xMinor, {anchor: "bottom", tickSize: 4, dy: -4, tickFormat: () => "", stroke: "#555", label: null}),
      Plot.axisY(yMinorTicks, {anchor: "left", tickSize: 4, dx: 4, tickFormat: () => "", stroke: "#555", label: null}),
      Plot.axisX(p.ticks, {anchor: "bottom", tickSize: 0, tickPadding: 5, fontSize: 15, fontWeight: "bold", label: null}),
      Plot.axisY(yTickLabels, {anchor: "left", tickSize: 0, tickPadding: 6, tickFormat: d3.format(".1f"), fontSize: 15, fontWeight: "bold", label: null}),
      Plot.frame({stroke: FRAME, strokeWidth: 1.4}),
      Plot.text([titles[p.i]], {frameAnchor: "top-left", dx: 12, dy: 20, lineAnchor: "bottom", textAnchor: "start", fontSize: 13.5, fontWeight: "bold", fill: "#111"})
    ]
  });
  plot.classList.add("pan");
  plot.style.left = (p.left - M.l) + "px";
  plot.style.top = (p.top - M.t) + "px";

  // annotation: half-time and n
  const svg = d3.select(plot);
  const ax = M.l + p.ann.dx;
  const y1 = M.t + p.h - p.ann.b1;
  const y2 = M.t + p.h - p.ann.b2;
  const t = svg.append("text").attr("x", ax).attr("y", y1).attr("text-anchor", "start")
    .attr("font-size", 14).attr("font-weight", "bold").attr("fill", "#111");
  if (p.ann.sub) {
    t.append("tspan").text("t");
    t.append("tspan").attr("font-size", 9.5).attr("dy", 2.5).text("1/2");
    t.append("tspan").attr("dy", -2.5).text(" = " + halfTimes[p.i] + " \u00B1 " + halfErrors[p.i]);
  } else {
    t.append("tspan").text("t1/2 = " + halfTimes[p.i] + " \u00B1 " + halfErrors[p.i]);
  }
  t.append("tspan").attr("font-size", 11).attr("dy", -5).text(" " + letters[p.i]);
  const n = svg.append("text").attr("x", ax).attr("y", y2).attr("text-anchor", "start")
    .attr("font-size", 14).attr("font-weight", "bold").attr("fill", "#111");
  n.append("tspan").attr("font-style", "italic").text("n");
  n.append("tspan").text(" = " + cellCounts[p.i]);

  wrap.appendChild(plot);
}
</script>
</body>
</html>
